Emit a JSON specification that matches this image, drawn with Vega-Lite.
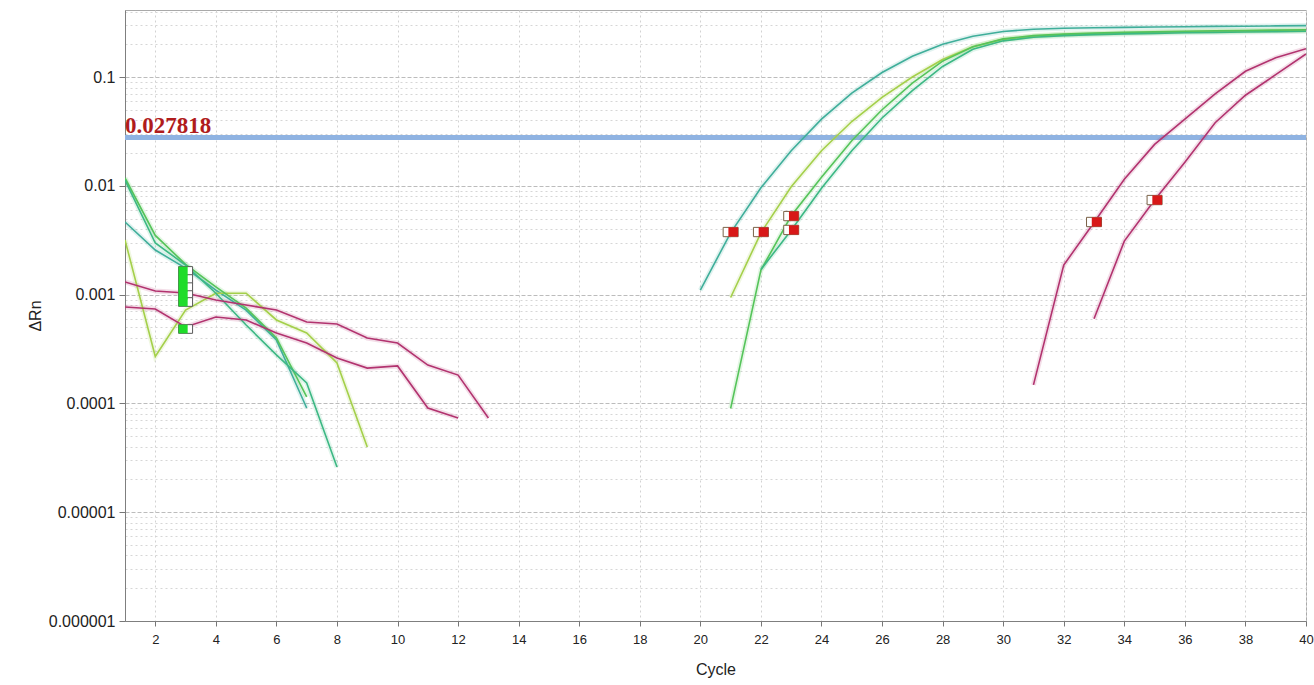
{
  "$schema": "https://vega.github.io/schema/vega-lite/v6.json",
  "width": 1181,
  "height": 611,
  "autosize": {"type": "none"},
  "padding": {"left": 125, "top": 10, "right": 8, "bottom": 64},
  "background": "white",
  "config": {
    "view": {"stroke": "#a9a9a9", "strokeWidth": 1},
    "font": "Liberation Sans"
  },
  "datasets": {
    "curves": [
      {"sample": "S1", "seg": "S1a", "cycle": 1, "value": 0.00465},
      {"sample": "S1", "seg": "S1a", "cycle": 2, "value": 0.00257},
      {"sample": "S1", "seg": "S1a", "cycle": 3, "value": 0.00175},
      {"sample": "S1", "seg": "S1a", "cycle": 4, "value": 0.0011},
      {"sample": "S1", "seg": "S1a", "cycle": 5, "value": 0.00072},
      {"sample": "S1", "seg": "S1a", "cycle": 6, "value": 0.000383},
      {"sample": "S1", "seg": "S1a", "cycle": 7, "value": 0.0000908},
      {"sample": "S1", "seg": "S1b", "cycle": 20, "value": 0.0011},
      {"sample": "S1", "seg": "S1b", "cycle": 21, "value": 0.0037},
      {"sample": "S1", "seg": "S1b", "cycle": 22, "value": 0.0096},
      {"sample": "S1", "seg": "S1b", "cycle": 23, "value": 0.021},
      {"sample": "S1", "seg": "S1b", "cycle": 24, "value": 0.041},
      {"sample": "S1", "seg": "S1b", "cycle": 25, "value": 0.071},
      {"sample": "S1", "seg": "S1b", "cycle": 26, "value": 0.11},
      {"sample": "S1", "seg": "S1b", "cycle": 27, "value": 0.155},
      {"sample": "S1", "seg": "S1b", "cycle": 28, "value": 0.2},
      {"sample": "S1", "seg": "S1b", "cycle": 29, "value": 0.237},
      {"sample": "S1", "seg": "S1b", "cycle": 30, "value": 0.262},
      {"sample": "S1", "seg": "S1b", "cycle": 31, "value": 0.275},
      {"sample": "S1", "seg": "S1b", "cycle": 32, "value": 0.281},
      {"sample": "S1", "seg": "S1b", "cycle": 33, "value": 0.284},
      {"sample": "S1", "seg": "S1b", "cycle": 34, "value": 0.286},
      {"sample": "S1", "seg": "S1b", "cycle": 35, "value": 0.288},
      {"sample": "S1", "seg": "S1b", "cycle": 36, "value": 0.29},
      {"sample": "S1", "seg": "S1b", "cycle": 37, "value": 0.292},
      {"sample": "S1", "seg": "S1b", "cycle": 38, "value": 0.293},
      {"sample": "S1", "seg": "S1b", "cycle": 39, "value": 0.295},
      {"sample": "S1", "seg": "S1b", "cycle": 40, "value": 0.297},
      {"sample": "S2", "seg": "S2a", "cycle": 1, "value": 0.00318},
      {"sample": "S2", "seg": "S2a", "cycle": 2, "value": 0.00027},
      {"sample": "S2", "seg": "S2a", "cycle": 3, "value": 0.00072},
      {"sample": "S2", "seg": "S2a", "cycle": 4, "value": 0.00103},
      {"sample": "S2", "seg": "S2a", "cycle": 5, "value": 0.00103},
      {"sample": "S2", "seg": "S2a", "cycle": 6, "value": 0.000585},
      {"sample": "S2", "seg": "S2a", "cycle": 7, "value": 0.000444},
      {"sample": "S2", "seg": "S2a", "cycle": 8, "value": 0.000235},
      {"sample": "S2", "seg": "S2a", "cycle": 9, "value": 0.0000397},
      {"sample": "S2", "seg": "S2b", "cycle": 21, "value": 0.00094},
      {"sample": "S2", "seg": "S2b", "cycle": 22, "value": 0.0037},
      {"sample": "S2", "seg": "S2b", "cycle": 23, "value": 0.0098},
      {"sample": "S2", "seg": "S2b", "cycle": 24, "value": 0.021},
      {"sample": "S2", "seg": "S2b", "cycle": 25, "value": 0.039},
      {"sample": "S2", "seg": "S2b", "cycle": 26, "value": 0.065},
      {"sample": "S2", "seg": "S2b", "cycle": 27, "value": 0.1},
      {"sample": "S2", "seg": "S2b", "cycle": 28, "value": 0.145},
      {"sample": "S2", "seg": "S2b", "cycle": 29, "value": 0.19},
      {"sample": "S2", "seg": "S2b", "cycle": 30, "value": 0.222},
      {"sample": "S2", "seg": "S2b", "cycle": 31, "value": 0.237},
      {"sample": "S2", "seg": "S2b", "cycle": 32, "value": 0.245},
      {"sample": "S2", "seg": "S2b", "cycle": 33, "value": 0.25},
      {"sample": "S2", "seg": "S2b", "cycle": 34, "value": 0.254},
      {"sample": "S2", "seg": "S2b", "cycle": 35, "value": 0.257},
      {"sample": "S2", "seg": "S2b", "cycle": 36, "value": 0.26},
      {"sample": "S2", "seg": "S2b", "cycle": 37, "value": 0.262},
      {"sample": "S2", "seg": "S2b", "cycle": 38, "value": 0.264},
      {"sample": "S2", "seg": "S2b", "cycle": 39, "value": 0.266},
      {"sample": "S2", "seg": "S2b", "cycle": 40, "value": 0.268},
      {"sample": "S3", "seg": "S3a", "cycle": 1, "value": 0.0118},
      {"sample": "S3", "seg": "S3a", "cycle": 2, "value": 0.0035},
      {"sample": "S3", "seg": "S3a", "cycle": 3, "value": 0.0019},
      {"sample": "S3", "seg": "S3a", "cycle": 4, "value": 0.00118},
      {"sample": "S3", "seg": "S3a", "cycle": 5, "value": 0.00075},
      {"sample": "S3", "seg": "S3a", "cycle": 6, "value": 0.0004},
      {"sample": "S3", "seg": "S3a", "cycle": 7, "value": 0.000115},
      {"sample": "S3", "seg": "S3b", "cycle": 21, "value": 0.00009},
      {"sample": "S3", "seg": "S3b", "cycle": 22, "value": 0.00168},
      {"sample": "S3", "seg": "S3b", "cycle": 23, "value": 0.0053},
      {"sample": "S3", "seg": "S3b", "cycle": 24, "value": 0.012},
      {"sample": "S3", "seg": "S3b", "cycle": 25, "value": 0.026},
      {"sample": "S3", "seg": "S3b", "cycle": 26, "value": 0.05},
      {"sample": "S3", "seg": "S3b", "cycle": 27, "value": 0.088},
      {"sample": "S3", "seg": "S3b", "cycle": 28, "value": 0.14},
      {"sample": "S3", "seg": "S3b", "cycle": 29, "value": 0.19},
      {"sample": "S3", "seg": "S3b", "cycle": 30, "value": 0.224},
      {"sample": "S3", "seg": "S3b", "cycle": 31, "value": 0.24},
      {"sample": "S3", "seg": "S3b", "cycle": 32, "value": 0.248},
      {"sample": "S3", "seg": "S3b", "cycle": 33, "value": 0.253},
      {"sample": "S3", "seg": "S3b", "cycle": 34, "value": 0.257},
      {"sample": "S3", "seg": "S3b", "cycle": 35, "value": 0.26},
      {"sample": "S3", "seg": "S3b", "cycle": 36, "value": 0.263},
      {"sample": "S3", "seg": "S3b", "cycle": 37, "value": 0.266},
      {"sample": "S3", "seg": "S3b", "cycle": 38, "value": 0.268},
      {"sample": "S3", "seg": "S3b", "cycle": 39, "value": 0.27},
      {"sample": "S3", "seg": "S3b", "cycle": 40, "value": 0.272},
      {"sample": "S4", "seg": "S4a", "cycle": 1, "value": 0.0113},
      {"sample": "S4", "seg": "S4a", "cycle": 2, "value": 0.00298},
      {"sample": "S4", "seg": "S4a", "cycle": 3, "value": 0.00187},
      {"sample": "S4", "seg": "S4a", "cycle": 4, "value": 0.00103},
      {"sample": "S4", "seg": "S4a", "cycle": 5, "value": 0.000526},
      {"sample": "S4", "seg": "S4a", "cycle": 6, "value": 0.000279},
      {"sample": "S4", "seg": "S4a", "cycle": 7, "value": 0.000154},
      {"sample": "S4", "seg": "S4a", "cycle": 8, "value": 0.000026},
      {"sample": "S4", "seg": "S4b", "cycle": 22, "value": 0.0017},
      {"sample": "S4", "seg": "S4b", "cycle": 23, "value": 0.0039},
      {"sample": "S4", "seg": "S4b", "cycle": 24, "value": 0.0095},
      {"sample": "S4", "seg": "S4b", "cycle": 25, "value": 0.021},
      {"sample": "S4", "seg": "S4b", "cycle": 26, "value": 0.042},
      {"sample": "S4", "seg": "S4b", "cycle": 27, "value": 0.075},
      {"sample": "S4", "seg": "S4b", "cycle": 28, "value": 0.125},
      {"sample": "S4", "seg": "S4b", "cycle": 29, "value": 0.18},
      {"sample": "S4", "seg": "S4b", "cycle": 30, "value": 0.215},
      {"sample": "S4", "seg": "S4b", "cycle": 31, "value": 0.232},
      {"sample": "S4", "seg": "S4b", "cycle": 32, "value": 0.24},
      {"sample": "S4", "seg": "S4b", "cycle": 33, "value": 0.245},
      {"sample": "S4", "seg": "S4b", "cycle": 34, "value": 0.249},
      {"sample": "S4", "seg": "S4b", "cycle": 35, "value": 0.252},
      {"sample": "S4", "seg": "S4b", "cycle": 36, "value": 0.255},
      {"sample": "S4", "seg": "S4b", "cycle": 37, "value": 0.257},
      {"sample": "S4", "seg": "S4b", "cycle": 38, "value": 0.259},
      {"sample": "S4", "seg": "S4b", "cycle": 39, "value": 0.261},
      {"sample": "S4", "seg": "S4b", "cycle": 40, "value": 0.263},
      {"sample": "P1", "seg": "P1a", "cycle": 1, "value": 0.001306},
      {"sample": "P1", "seg": "P1a", "cycle": 2, "value": 0.001079},
      {"sample": "P1", "seg": "P1a", "cycle": 3, "value": 0.001035},
      {"sample": "P1", "seg": "P1a", "cycle": 4, "value": 0.000892},
      {"sample": "P1", "seg": "P1a", "cycle": 5, "value": 0.000802},
      {"sample": "P1", "seg": "P1a", "cycle": 6, "value": 0.000721},
      {"sample": "P1", "seg": "P1a", "cycle": 7, "value": 0.00056},
      {"sample": "P1", "seg": "P1a", "cycle": 8, "value": 0.000537},
      {"sample": "P1", "seg": "P1a", "cycle": 9, "value": 0.000399},
      {"sample": "P1", "seg": "P1a", "cycle": 10, "value": 0.000359},
      {"sample": "P1", "seg": "P1a", "cycle": 11, "value": 0.000225},
      {"sample": "P1", "seg": "P1a", "cycle": 12, "value": 0.000182},
      {"sample": "P1", "seg": "P1a", "cycle": 13, "value": 0.0000735},
      {"sample": "P1", "seg": "P1b", "cycle": 31, "value": 0.000148},
      {"sample": "P1", "seg": "P1b", "cycle": 32, "value": 0.00187},
      {"sample": "P1", "seg": "P1b", "cycle": 33, "value": 0.0046},
      {"sample": "P1", "seg": "P1b", "cycle": 34, "value": 0.0115},
      {"sample": "P1", "seg": "P1b", "cycle": 35, "value": 0.024},
      {"sample": "P1", "seg": "P1b", "cycle": 36, "value": 0.041},
      {"sample": "P1", "seg": "P1b", "cycle": 37, "value": 0.07},
      {"sample": "P1", "seg": "P1b", "cycle": 38, "value": 0.113},
      {"sample": "P1", "seg": "P1b", "cycle": 39, "value": 0.15},
      {"sample": "P1", "seg": "P1b", "cycle": 40, "value": 0.182},
      {"sample": "P2", "seg": "P2a", "cycle": 1, "value": 0.000769},
      {"sample": "P2", "seg": "P2a", "cycle": 2, "value": 0.000738},
      {"sample": "P2", "seg": "P2a", "cycle": 3, "value": 0.000504},
      {"sample": "P2", "seg": "P2a", "cycle": 4, "value": 0.000622},
      {"sample": "P2", "seg": "P2a", "cycle": 5, "value": 0.000584},
      {"sample": "P2", "seg": "P2a", "cycle": 6, "value": 0.000443},
      {"sample": "P2", "seg": "P2a", "cycle": 7, "value": 0.000359},
      {"sample": "P2", "seg": "P2a", "cycle": 8, "value": 0.000261},
      {"sample": "P2", "seg": "P2a", "cycle": 9, "value": 0.000211},
      {"sample": "P2", "seg": "P2a", "cycle": 10, "value": 0.000221},
      {"sample": "P2", "seg": "P2a", "cycle": 11, "value": 0.0000908},
      {"sample": "P2", "seg": "P2a", "cycle": 12, "value": 0.0000735},
      {"sample": "P2", "seg": "P2b", "cycle": 33, "value": 0.0006},
      {"sample": "P2", "seg": "P2b", "cycle": 34, "value": 0.0031},
      {"sample": "P2", "seg": "P2b", "cycle": 35, "value": 0.0074},
      {"sample": "P2", "seg": "P2b", "cycle": 36, "value": 0.0165},
      {"sample": "P2", "seg": "P2b", "cycle": 37, "value": 0.038},
      {"sample": "P2", "seg": "P2b", "cycle": 38, "value": 0.068},
      {"sample": "P2", "seg": "P2b", "cycle": 39, "value": 0.105},
      {"sample": "P2", "seg": "P2b", "cycle": 40, "value": 0.163}
    ],
    "markers": [
      {"kind": "start", "cycle": 3, "value": 0.00165},
      {"kind": "start", "cycle": 3, "value": 0.00139},
      {"kind": "start", "cycle": 3, "value": 0.00117},
      {"kind": "start", "cycle": 3, "value": 0.00099},
      {"kind": "start", "cycle": 3, "value": 0.000855},
      {"kind": "start", "cycle": 3, "value": 0.000483},
      {"kind": "end", "cycle": 21, "value": 0.00376},
      {"kind": "end", "cycle": 22, "value": 0.00376},
      {"kind": "end", "cycle": 23, "value": 0.00527},
      {"kind": "end", "cycle": 23, "value": 0.00393},
      {"kind": "end", "cycle": 33, "value": 0.00465},
      {"kind": "end", "cycle": 35, "value": 0.0074}
    ],
    "threshold": [
      {"label": "0.027818", "cycle": 1, "value": 0.027818}
    ]
  },
  "layer": [
    {
      "data": {"name": "threshold"},
      "mark": {"type": "rule", "color": "#8fb3e2", "strokeWidth": 5},
      "encoding": {
        "y": {
          "field": "value",
          "type": "quantitative",
          "scale": {"type": "log", "domain": [0.000001, 0.413], "nice": false},
          "axis": {
            "values": [0.000001, 0.000002, 0.000003, 0.000004, 0.000005, 0.000006, 0.000007, 0.000008, 0.000009,
                       0.00001, 0.00002, 0.00003, 0.00004, 0.00005, 0.00006, 0.00007, 0.00008, 0.00009,
                       0.0001, 0.0002, 0.0003, 0.0004, 0.0005, 0.0006, 0.0007, 0.0008, 0.0009,
                       0.001, 0.002, 0.003, 0.004, 0.005, 0.006, 0.007, 0.008, 0.009,
                       0.01, 0.02, 0.03, 0.04, 0.05, 0.06, 0.07, 0.08, 0.09,
                       0.1, 0.2, 0.3, 0.4],
            "format": ".6~f",
            "labelExpr": "abs(log(datum.value)/LN10 - round(log(datum.value)/LN10)) < 0.000001 ? datum.label : ''",
            "labelOverlap": false,
            "labelFont": "Liberation Sans",
            "labelFontSize": 16,
            "labelColor": "#222222",
            "labelPadding": 4,
            "tickSize": 6,
            "tickColor": {"condition": {"test": "abs(log(datum.value)/LN10 - round(log(datum.value)/LN10)) < 0.000001", "value": "#777777"}, "value": "transparent"},
            "domainColor": "#7f7f7f",
            "grid": true,
            "gridColor": {"condition": {"test": "abs(log(datum.value)/LN10 - round(log(datum.value)/LN10)) < 0.000001", "value": "#bcbcbc"}, "value": "#d6d6d6"},
            "gridDash": {"condition": {"test": "abs(log(datum.value)/LN10 - round(log(datum.value)/LN10)) < 0.000001", "value": [4, 2]}, "value": [2, 3]},
            "title": "ΔRn",
            "titleFont": "Liberation Sans",
            "titleFontSize": 16,
            "titleFontWeight": "normal",
            "titleColor": "#222222",
            "titlePadding": 5
          }
        }
      }
    },
    {
      "data": {"name": "curves"},
      "mark": {"type": "line", "strokeWidth": 5, "opacity": 0.16, "clip": true},
      "encoding": {
        "x": {
          "field": "cycle",
          "type": "quantitative",
          "scale": {"domain": [1, 40], "nice": false, "zero": false},
          "axis": {
            "values": [2, 4, 6, 8, 10, 12, 14, 16, 18, 20, 22, 24, 26, 28, 30, 32, 34, 36, 38, 40],
            "labelFlush": false,
            "labelFont": "Liberation Sans",
            "labelFontSize": 13,
            "labelColor": "#222222",
            "labelPadding": 7,
            "tickSize": 5,
            "tickColor": "#777777",
            "domainColor": "#7f7f7f",
            "grid": true,
            "gridColor": "#d2d2d2",
            "gridDash": [2, 3],
            "title": "Cycle",
            "titleFont": "Liberation Sans",
            "titleFontSize": 16,
            "titleFontWeight": "normal",
            "titleColor": "#222222",
            "titlePadding": 15
          }
        },
        "y": {"field": "value", "type": "quantitative"},
        "detail": {"field": "seg", "type": "nominal"},
        "color": {
          "field": "sample",
          "type": "nominal",
          "scale": {"domain": ["S1", "S2", "S3", "S4", "P1", "P2"], "range": ["#3fae9a", "#a4d04a", "#55c45a", "#3cb884", "#b2336f", "#b2336f"]},
          "legend": null
        }
      }
    },
    {
      "data": {"name": "curves"},
      "mark": {"type": "line", "strokeWidth": 1.6, "clip": true},
      "encoding": {
        "x": {"field": "cycle", "type": "quantitative"},
        "y": {"field": "value", "type": "quantitative"},
        "detail": {"field": "seg", "type": "nominal"},
        "color": {"field": "sample", "type": "nominal", "legend": null}
      }
    },
    {
      "data": {"name": "markers"},
      "transform": [{"filter": "datum.kind == 'start'"}],
      "layer": [
        {
          "mark": {"type": "point", "shape": "M-1,-0.62L1,-0.62L1,0.62L-1,0.62Z", "size": 196, "filled": true, "fill": "#ffffff", "stroke": "#5a5a5a", "strokeWidth": 1, "opacity": 1},
          "encoding": {"x": {"field": "cycle", "type": "quantitative"}, "y": {"field": "value", "type": "quantitative"}}
        },
        {
          "mark": {"type": "point", "shape": "M-1,-0.62L0.3,-0.62L0.3,0.62L-1,0.62Z", "size": 196, "filled": true, "fill": "#1fdc2a", "strokeWidth": 0, "opacity": 1},
          "encoding": {"x": {"field": "cycle", "type": "quantitative"}, "y": {"field": "value", "type": "quantitative"}}
        }
      ]
    },
    {
      "data": {"name": "markers"},
      "transform": [{"filter": "datum.kind == 'end'"}],
      "layer": [
        {
          "mark": {"type": "point", "shape": "M-1,-0.62L1,-0.62L1,0.62L-1,0.62Z", "size": 225, "filled": true, "fill": "#ffffff", "stroke": "#7a6248", "strokeWidth": 1, "opacity": 1},
          "encoding": {"x": {"field": "cycle", "type": "quantitative"}, "y": {"field": "value", "type": "quantitative"}}
        },
        {
          "mark": {"type": "point", "shape": "M-0.3,-0.62L1,-0.62L1,0.62L-0.3,0.62Z", "size": 225, "filled": true, "fill": "#d81818", "strokeWidth": 0, "opacity": 1},
          "encoding": {"x": {"field": "cycle", "type": "quantitative"}, "y": {"field": "value", "type": "quantitative"}}
        }
      ]
    },
    {
      "data": {"name": "threshold"},
      "mark": {"type": "text", "align": "left", "baseline": "alphabetic", "dy": -4, "font": "Liberation Serif", "fontWeight": "bold", "fontSize": 23, "color": "#b01c1c"},
      "encoding": {
        "x": {"field": "cycle", "type": "quantitative"},
        "y": {"field": "value", "type": "quantitative"},
        "text": {"field": "label", "type": "nominal"}
      }
    }
  ]
}
